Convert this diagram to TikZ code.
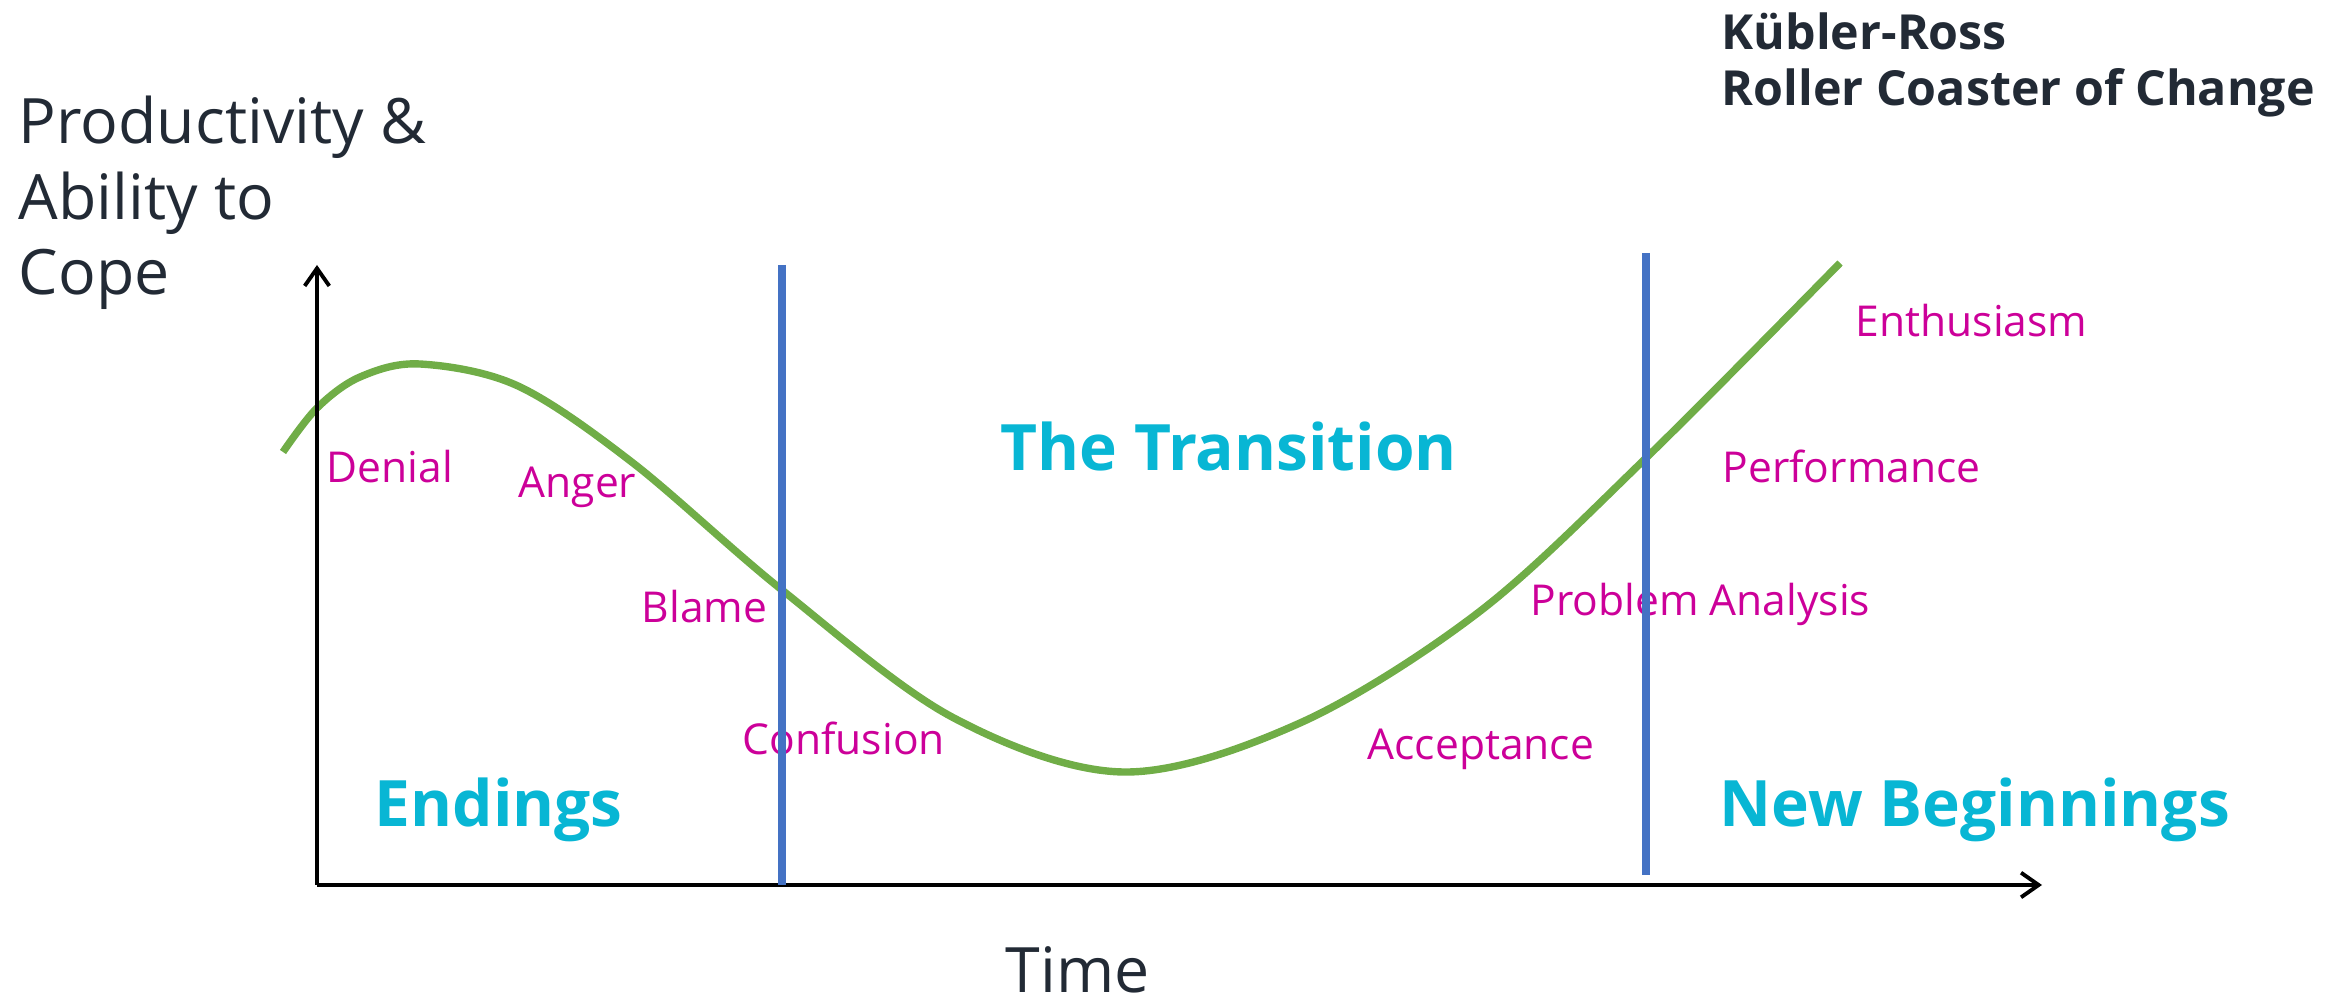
\documentclass[tikz,border=0pt]{standalone}
\usepackage{fontspec}
\setmainfont{Open Sans}
\usetikzlibrary{arrows.meta}

\definecolor{stagepink}{RGB}{204,0,153}
\definecolor{phasecyan}{RGB}{8,182,212}
\definecolor{inkdark}{RGB}{34,42,53}
\definecolor{coastergreen}{RGB}{112,173,71}
\definecolor{dividerblue}{RGB}{68,114,196}

\begin{document}
\begin{tikzpicture}[x=0.01cm, y=-0.01cm,
  stage/.style={text=stagepink, font=\fontsize{12.1}{14}\selectfont, anchor=base west, inner sep=0pt},
  phase/.style={text=phasecyan, font=\fontsize{18.2}{22}\selectfont\bfseries, anchor=base west, inner sep=0pt},
  axislabel/.style={text=inkdark, font=\fontsize{17.8}{21.6}\selectfont, anchor=base west, inner sep=0pt, align=left},
  axisline/.style={line width=1.1pt, -{Straight Barb[length=5pt,width=7pt]}},
  divider/.style={dividerblue, line width=2.2pt}]
  \useasboundingbox (0,0) rectangle (2333,1004);

  % title (base anchor sits on the last line)
  \node (title) [text=inkdark, font=\fontsize{13.75}{16.2}\selectfont\bfseries, anchor=base west, inner sep=0pt, align=left]
    at (1721,106) {Kübler-Ross\\Roller Coaster of Change};

  % the coaster curve
  \draw[coastergreen, line width=2.1pt] plot[smooth, tension=0.55] coordinates {
    (283,452) (317,408) (360,377) (420,364) (518,386) (633,463) (782,590)
    (952,717) (1123,772) (1300,723) (1479,612) (1646,458) (1840,263)};

  % axes
  \coordinate (O) at (317,885);
  \coordinate (ytop) at (317,265);
  \coordinate (xend) at (2042,885);
  \draw[axisline] (O) -- (ytop);
  \draw[axisline] (O) -- (xend);
  \node (ylabel) [axislabel] at (18,295) {Productivity \&\\Ability to\\Cope};
  \node (xlabel) [axislabel] at (1005,993) {Time};

  % stages along the curve
  \node (denial) [stage] at (326,483) {Denial};
  \node (anger) [stage] at (518,498) {Anger};
  \node (blame) [stage] at (641,623) {Blame};
  \node (confusion) [stage] at (742,755) {Confusion};
  \node (acceptance) [stage] at (1367,760) {Acceptance};
  \node (analysis) [stage] at (1530,616) {Problem Analysis};
  \node (performance) [stage] at (1722,483) {Performance};
  \node (enthusiasm) [stage] at (1855,337) {Enthusiasm};

  % phases
  \node (endings) [phase] at (374,827) {Endings};
  \node (transition) [phase] at (1000,471) {The Transition};
  \node (beginnings) [phase] at (1719,827) {New Beginnings};

  % phase dividers
  \coordinate (d1top) at (782,265);
  \coordinate (d1bot) at (782,885);
  \coordinate (d2top) at (1646,253);
  \coordinate (d2bot) at (1646,875);
  \draw[divider] (d1top) -- (d1bot);
  \draw[divider] (d2top) -- (d2bot);
\end{tikzpicture}
\end{document}
